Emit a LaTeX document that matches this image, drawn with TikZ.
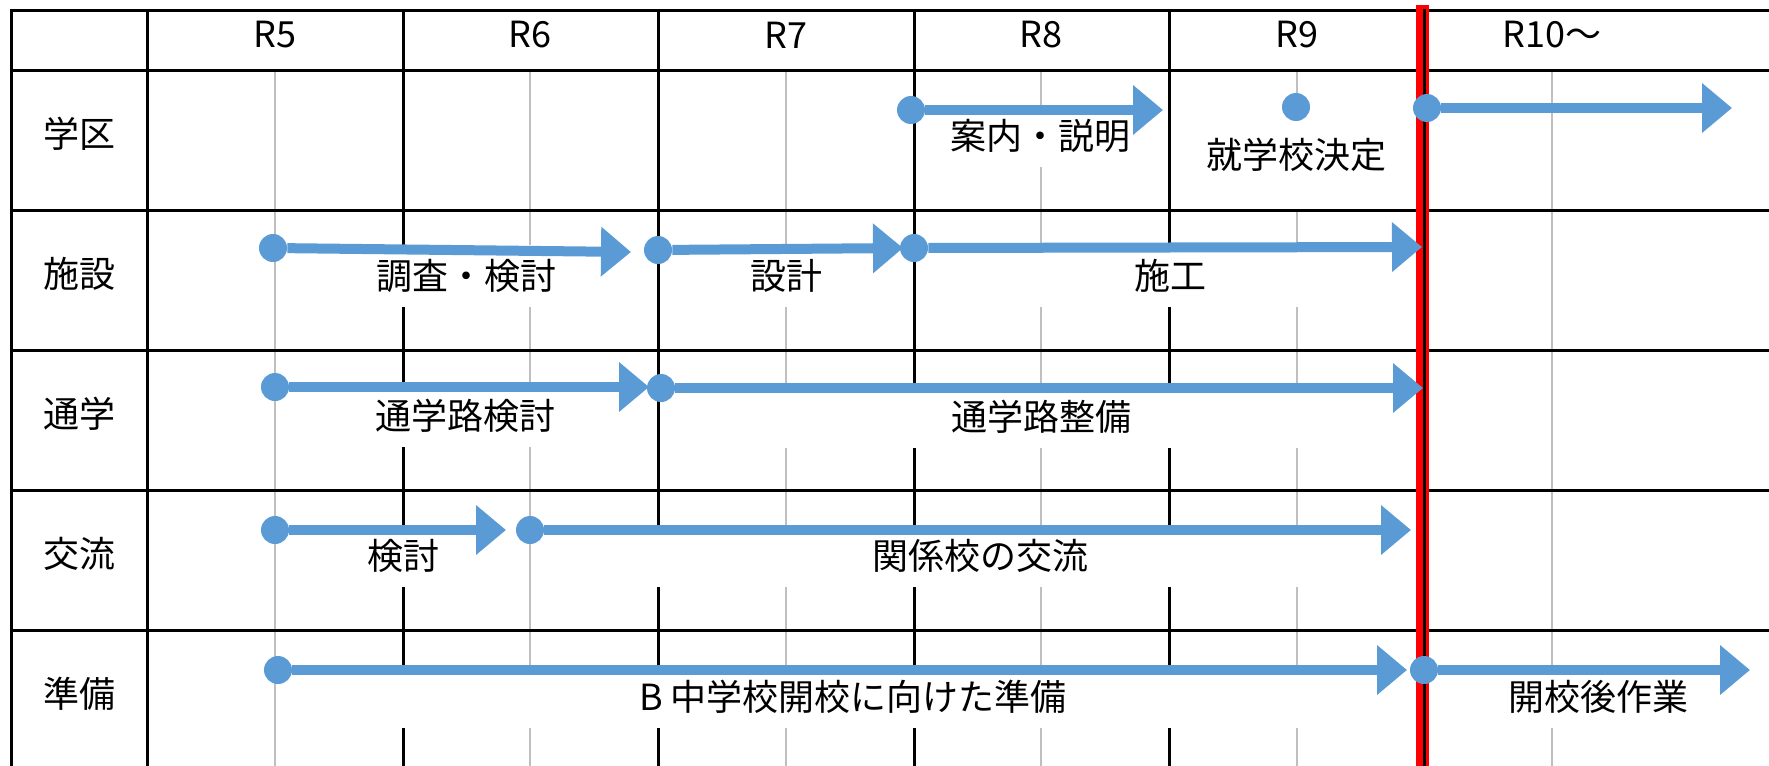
\documentclass[tikz,border=0pt]{standalone}
\usepackage{fontspec}
\setmainfont{Noto Sans CJK JP}
\usetikzlibrary{arrows.meta}
\definecolor{barblue}{HTML}{5B9BD5}
\definecolor{gridgray}{HTML}{BFBFBF}
\definecolor{markred}{HTML}{FF0000}

\begin{document}
\begin{tikzpicture}[x=0.5pt, y=-0.5pt,
    txt/.style={font=\fontsize{18pt}{22pt}\selectfont, inner sep=0pt},
    task/.style={txt, fill=white, minimum height=31pt},
    dot/.style={circle, fill=barblue, inner sep=0pt, minimum size=14pt},
    bar/.style={draw=barblue, line width=5pt, -{Triangle[length=15pt,width=24pt]}},
    rule/.style={line width=1.5pt, line cap=rect},
    guide/.style={draw=gridgray, line width=1.3pt}]

    \useasboundingbox (0,0) rectangle (1769,766);

    % thin lines in the middle of each year
    \foreach \x in {275,530,786,1041,1297,1552}
        \draw[guide] (\x,70) -- (\x,766);

    % table
    \foreach \y in {10,70,210,350,490,630}
        \draw[rule] (11,\y) -- (1769,\y);
    \foreach \x in {11,147,403,658,914,1169,1424}
        \draw[rule] (\x,10) -- (\x,766);

    % years
    \node[txt] (r5) at (275,35) {R5};
    \node[txt] (r6) at (530,35) {R6};
    \node[txt] (r7) at (786,35) {R7};
    \node[txt] (r8) at (1041,35) {R8};
    \node[txt] (r9) at (1297,35) {R9};
    \node[txt] (r10) at (1552,35) {R10～};

    % rows
    \node[txt] (gk) at (79,134) {学区};
    \node[txt] (sh) at (79,274) {施設};
    \node[txt] (tg) at (79,414) {通学};
    \node[txt] (kr) at (79,554) {交流};
    \node[txt] (jb) at (79,694) {準備};

    % labels (white boxes over the lines)
    \node[task] (tgk1) at (1040,136) {案内・説明};
    \node[txt, fill=white, anchor=north, text height=24pt, text depth=20.5pt] (tgk2) at (1296,120) {就学校決定};
    \node[task] (tsh1) at (466,276) {調査・検討};
    \node[task] (tsh2) at (786,276) {設計};
    \node[task, minimum width=240pt] (tsh3) at (1170,276) {施工};
    \node[task] (ttg1) at (465,416) {通学路検討};
    \node[task, minimum width=350pt] (ttg2) at (1041,417) {通学路整備};
    \node[task] (tkr1) at (403,556) {検討};
    \node[task, minimum width=340pt] (tkr2) at (980,556) {関係校の交流};
    \node[task, minimum width=480pt] (tjb1) at (853,697) {B 中学校開校に向けた準備};
    \node[task] (tjb2) at (1598,697) {開校後作業};

    % opening line
    \draw[markred, line width=6.5pt] (1422,5) -- (1422,766);
    \draw[rule] (1424,10) -- (1424,766);

    % 学区
    \node[dot] (gk1) at (911,110) {};
    \coordinate (gk1e) at (1163,110);
    \draw[bar] (gk1) -- (gk1e);
    \node[dot] (gk2) at (1296,107) {};
    \node[dot] (gk3) at (1427,108) {};
    \coordinate (gk3e) at (1732,108);
    \draw[bar] (gk3) -- (gk3e);

    % 施設
    \node[dot] (sh1) at (273,248) {};
    \coordinate (sh1e) at (631,252);
    \draw[bar] (sh1) -- (sh1e);
    \node[dot] (sh2) at (658,250) {};
    \coordinate (sh2e) at (903,248);
    \draw[bar] (sh2) -- (sh2e);
    \node[dot] (sh3) at (914,248) {};
    \coordinate (sh3e) at (1422,247);
    \draw[bar] (sh3) -- (sh3e);

    % 通学
    \node[dot] (tg1) at (275,387) {};
    \coordinate (tg1e) at (649,387);
    \draw[bar] (tg1) -- (tg1e);
    \node[dot] (tg2) at (661,388) {};
    \coordinate (tg2e) at (1423,388);
    \draw[bar] (tg2) -- (tg2e);

    % 交流
    \node[dot] (kr1) at (275,530) {};
    \coordinate (kr1e) at (506,530);
    \draw[bar] (kr1) -- (kr1e);
    \node[dot] (kr2) at (530,530) {};
    \coordinate (kr2e) at (1411,530);
    \draw[bar] (kr2) -- (kr2e);

    % 準備
    \node[dot] (jb1) at (278,670) {};
    \coordinate (jb1e) at (1407,670);
    \draw[bar] (jb1) -- (jb1e);
    \node[dot] (jb2) at (1424,670) {};
    \coordinate (jb2e) at (1750,670);
    \draw[bar] (jb2) -- (jb2e);
\end{tikzpicture}
\end{document}
